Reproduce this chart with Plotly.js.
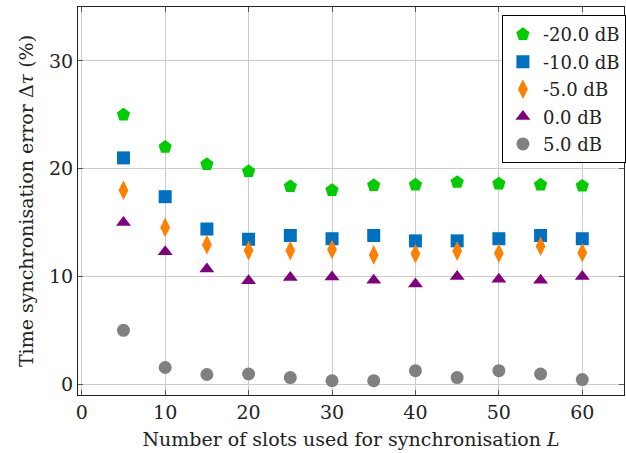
<!DOCTYPE html>
<html>
<head>
<meta charset="utf-8">
<script src="https://cdn.plot.ly/plotly-3.0.1.min.js"></script>
<style>html,body{margin:0;padding:0;background:#fff;}#chart{width:626px;height:453px;}</style>
</head>
<body>
<div id="chart"></div>
<script>
const slots = [5, 10, 15, 20, 25, 30, 35, 40, 45, 50, 55, 60];
const snrLabels = ["-20.0 dB", "-10.0 dB", "-5.0 dB", "0.0 dB", "5.0 dB"];
const errM20 = [25.0, 22.0, 20.4, 19.75, 18.35, 18.0, 18.45, 18.5, 18.75, 18.6, 18.5, 18.4];
const errM10 = [21.0, 17.4, 14.4, 13.45, 13.8, 13.5, 13.8, 13.3, 13.3, 13.5, 13.8, 13.5];
const errM5 = [18.0, 14.55, 12.95, 12.4, 12.4, 12.5, 12.0, 12.1, 12.35, 12.15, 12.8, 12.2];
const err0 = [15.0, 12.3, 10.7, 9.6, 9.9, 9.95, 9.65, 9.3, 10.0, 9.75, 9.65, 10.0];
const err5 = [5.0, 1.55, 0.9, 0.95, 0.62, 0.32, 0.33, 1.26, 0.62, 1.26, 0.95, 0.43];

const series = [errM20, errM10, errM5, err0, err5];
const colors = ["#00cc00", "#0070c0", "#ff8000", "#800080", "#808080"];
const symbols = ["pentagon", "square", "diamond-tall", "triangle-up", "circle"];
const sizes = [14, 13, 14, 13, 13];

const traces = series.map((ys, i) => ({
  x: slots, y: ys, name: snrLabels[i], type: "scatter", mode: "markers",
  legendgroup: "g" + i,
  marker: {color: colors[i], symbol: symbols[i], size: sizes[i], line: {width: 0}}
}));

const fam = "DejaVu Serif, Liberation Serif, serif";
const font = {family: fam, size: 19, color: "#222"};
const layout = {
  width: 626, height: 453,
  margin: {l: 78, r: 1, t: 7, b: 58},
  paper_bgcolor: "#fff", plot_bgcolor: "#fff",
  font: font,
  showlegend: true,
  legend: {x: 0.775, y: 0.979, xanchor: "left", yanchor: "top",
    bgcolor: "#fff", bordercolor: "#000", borderwidth: 1,
    font: {family: fam, size: 18, color: "#222"}, itemwidth: 30, tracegroupgap: 1},
  xaxis: {range: [-0.45, 65], tickvals: [0,10,20,30,40,50,60], ticktext: ["0","10","20","30","40","50","60"],
    showgrid: true, gridcolor: "#cccccc", gridwidth: 1, zeroline: false,
    showline: true, linecolor: "#222", linewidth: 1, mirror: "ticks",
    ticks: "inside", ticklen: 5, tickcolor: "#555",
    title: {text: "Number of slots used for synchronisation <i>L</i>", standoff: 10, font: {family: fam, size: 19, color: "#222"}}},
  yaxis: {range: [-1, 35], tickvals: [0,10,20,30], ticktext: ["0","10","20","30"],
    showgrid: true, gridcolor: "#cccccc", gridwidth: 1, zeroline: false,
    showline: true, linecolor: "#222", linewidth: 1, mirror: "ticks",
    ticks: "inside", ticklen: 5, tickcolor: "#555",
    title: {text: "Time synchronisation error Δ<i>τ</i> (%)", standoff: 10, font: {family: fam, size: 19, color: "#222"}}}
};

Plotly.newPlot("chart", traces, layout, {displayModeBar: false, staticPlot: true});
</script>
</body>
</html>
